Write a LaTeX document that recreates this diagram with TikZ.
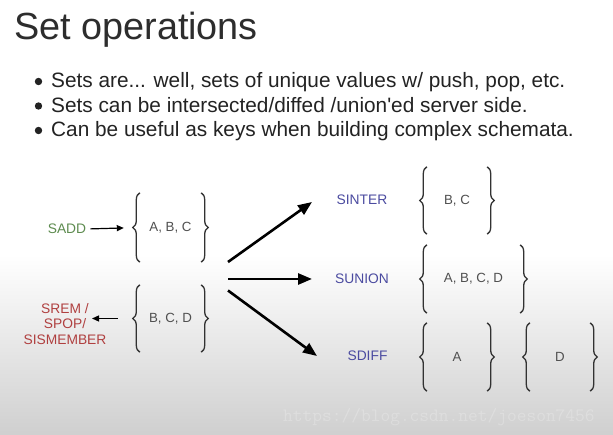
\documentclass[tikz,border=0pt]{standalone}
\usepackage{fontspec}
\setmainfont{Liberation Sans}
\usetikzlibrary{arrows.meta,decorations.pathreplacing}
\definecolor{titlegray}{RGB}{45,45,45}
\definecolor{bodygray}{RGB}{35,35,35}
\definecolor{setgray}{RGB}{80,80,80}
\definecolor{bracegray}{RGB}{50,50,50}
\definecolor{opgreen}{RGB}{94,140,80}
\definecolor{opred}{RGB}{176,64,64}
\definecolor{opblue}{RGB}{75,75,160}
\definecolor{shadegray}{RGB}{190,190,190}
\tikzset{
  titletext/.style={anchor=base west, inner sep=0pt, text=titlegray, font=\fontsize{37.8}{40}\selectfont},
  bullettext/.style={anchor=base west, inner sep=0pt, text=bodygray, font=\fontsize{20.8}{23}\selectfont},
  bulletdot/.style={fill=bodygray},
  optext/.style={inner sep=0pt, font=\fontsize{13.8}{15.2}\selectfont},
  setbox/.style={inner sep=0pt, text=setgray, font=\fontsize{13.3}{15}\selectfont, minimum width=#1},
  bracestyle/.style={draw=bracegray, line width=1.3pt, decorate, decoration={brace, amplitude=7pt, aspect=0.5}},
  bigarrow/.style={draw=black, line width=2.6pt, -{Triangle[length=14pt,width=11pt]}},
  smallarrow/.style={draw=black, line width=1.2pt, -{Triangle[length=7pt,width=6pt]}}
}
\newcommand\bracepair[1]{%
  \draw[bracestyle] (#1.south west) -- (#1.north west);
  \draw[bracestyle] (#1.north east) -- (#1.south east);}
\begin{document}
\begin{tikzpicture}[x=1pt,y=-1pt]
\useasboundingbox (0,0) rectangle (613,435);
\fill[white] (0,0) rectangle (613,435);
\begin{scope}
  \clip (0,0) rectangle (613,435);
  \shade[top color=white, bottom color=shadegray] (0,255) rectangle (613,500);
\end{scope}
% title and bullets
\node[titletext] (title) at (14,40) {Set operations};
\node[bullettext] (b1) at (51,88) {Sets are... well, sets of unique values w/ push, pop, etc.};
\node[bullettext] (b2) at (51,112.5) {Sets can be intersected/diffed /union\textquotesingle ed server side.};
\node[bullettext] (b3) at (51,137) {Can be useful as keys when building complex schemata.};
\fill[bulletdot] (38.5,81.5) circle (3.7pt);
\fill[bulletdot] (38.5,106) circle (3.7pt);
\fill[bulletdot] (38.5,130.5) circle (3.7pt);
% left sets
\node[setbox=61pt, minimum height=69pt] (abc) at (170.5,227.5) {A, B, C};
\node[setbox=61pt, minimum height=67pt] (bcd) at (170.5,318.5) {B, C, D};
\bracepair{abc}
\bracepair{bcd}
\node[optext, text=opgreen] (sadd) at (67,229) {SADD};
\draw[smallarrow, shorten <=4pt, shorten >=16pt] (sadd.east) -- (abc.west);
\node[optext, text=opred, align=center] (srem) at (65,324) {SREM /\\SPOP/\\SISMEMBER};
\coordinate (sremtip) at (92,318.5);
\draw[smallarrow, shorten <=22pt] (bcd.west) -- (sremtip);
% fan of arrows
\coordinate (f1) at (228,262);
\coordinate (f2) at (228,279);
\coordinate (f3) at (228,290.5);
\coordinate (t1) at (312,202);
\coordinate (t2) at (312,279);
\coordinate (t3) at (317,356);
\draw[bigarrow] (f1) -- (t1);
\draw[bigarrow] (f2) -- (t2);
\draw[bigarrow] (f3) -- (t3);
% right side
\node[optext, text=opblue] (sinter) at (362,200) {SINTER};
\node[optext, text=opblue] (sunion) at (362,279) {SUNION};
\node[optext, text=opblue] (sdiff) at (367.5,356) {SDIFF};
\node[setbox=60pt, minimum height=67pt] (inter) at (457,200.5) {B, C};
\node[setbox=93pt, minimum height=68pt] (union) at (473.5,279) {A, B, C, D};
\node[setbox=60pt, minimum height=68pt] (diffa) at (457,357) {A};
\node[setbox=60pt, minimum height=68pt] (diffd) at (560,357) {D};
\bracepair{inter}
\bracepair{union}
\bracepair{diffa}
\bracepair{diffd}
% watermark
\node[anchor=base west, inner sep=0pt, text=white, text opacity=0.22, font=\ttfamily\fontsize{18.9}{20}\selectfont] (wm) at (283,421) {https://blog.csdn.net/joeson7456};
\end{tikzpicture}
\end{document}
